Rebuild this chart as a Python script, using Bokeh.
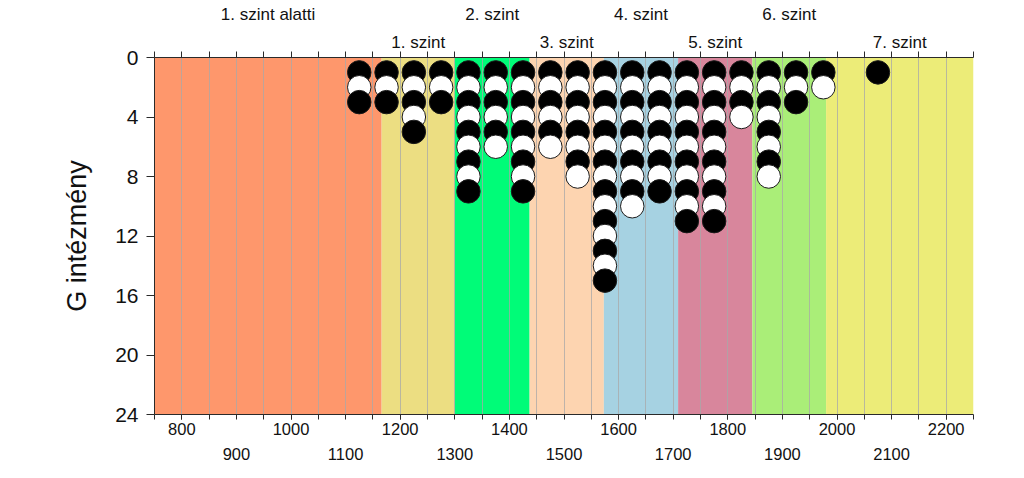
from bokeh.plotting import figure
from bokeh.models import Range1d, FixedTicker, LinearAxis, Grid, ColumnDataSource
from bokeh.embed import file_html
from bokeh.resources import INLINE

# ---- data ----
level_edges = [750, 1166, 1300, 1437, 1573, 1709, 1845, 1980, 2250]
level_names = ["1. szint alatti", "1. szint", "2. szint", "3. szint",
               "4. szint", "5. szint", "6. szint", "7. szint"]
level_colors = ["#FE976C", "#ECDE82", "#00FC78", "#FDD4B0",
                "#A6D2E2", "#D8869C", "#AAEE78", "#ECEC78"]

scores = [1125, 1175, 1225, 1275, 1325, 1375, 1425, 1475, 1525, 1575,
          1625, 1675, 1725, 1775, 1825, 1875, 1925, 1975, 2075]
counts = [3, 3, 5, 3, 9, 6, 9, 6, 8, 15, 10, 9, 11, 11, 4, 8, 3, 2, 1]

x_labels_row1 = [800, 1000, 1200, 1400, 1600, 1800, 2000, 2200]
x_labels_row2 = [900, 1100, 1300, 1500, 1700, 1900, 2100]
x_small_ticks = list(range(750, 2251, 50))
y_ticks = [0, 4, 8, 12, 16, 20, 24]

FONT = "Liberation Sans"
AXIS_COLOR = "#2a2a2a"

# ---- derived point table (one circle per institution) ----
px, py, pc = [], [], []
for s, n in zip(scores, counts):
    for k in range(1, n + 1):
        px.append(s)
        py.append(k)
        pc.append("black" if k % 2 == 1 else "white")
pts = ColumnDataSource(dict(x=px, y=py, c=pc))

bands = ColumnDataSource(dict(
    left=level_edges[:-1], right=level_edges[1:], color=level_colors,
    top=[0] * len(level_colors), bottom=[24] * len(level_colors)))

centers = [(a + b) / 2 for a, b in zip(level_edges[:-1], level_edges[1:])]

p = figure(width=1024, height=478,
           x_range=Range1d(750, 2250), y_range=Range1d(24, 0),
           output_backend="svg", toolbar_location=None,
           x_axis_location=None, y_axis_location=None,
           min_border_left=154, min_border_right=51,
           min_border_top=57, min_border_bottom=64)
p.xgrid.visible = False
p.ygrid.visible = False
p.outline_line_color = None
p.background_fill_color = "white"
p.border_fill_color = "white"

p.quad(left="left", right="right", top="top", bottom="bottom", source=bands,
       fill_color="color", line_color=None, level="image")

grid = Grid(dimension=0, ticker=FixedTicker(ticks=x_small_ticks[1:-1]),
            grid_line_color="#a8a8a8", grid_line_alpha=0.75, grid_line_width=1)
p.add_layout(grid, "center")

p.scatter(x="x", y="y", source=pts, size=23.5, marker="circle",
          fill_color="c", line_color="#1a1a1a", line_width=1)

def style_axis(ax, size):
    ax.axis_line_color = AXIS_COLOR
    ax.major_tick_line_color = AXIS_COLOR
    ax.minor_tick_line_color = AXIS_COLOR
    ax.major_tick_in = 0
    ax.minor_tick_in = 0
    ax.major_label_text_font = FONT
    ax.major_label_text_font_size = size
    ax.major_label_text_color = "#111111"

# left axis
ya = LinearAxis(ticker=FixedTicker(ticks=y_ticks), axis_label="G intézmény")
style_axis(ya, "21px")
ya.major_tick_out = 8
ya.minor_tick_out = 0
ya.major_label_standoff = 8
ya.axis_label_text_font = FONT
ya.axis_label_text_font_size = "27px"
ya.axis_label_text_font_style = "normal"
ya.axis_label_text_color = "#111111"
ya.axis_label_standoff = 20
p.add_layout(ya, "left")

# bottom axes (two label rows)
xb1 = LinearAxis(ticker=FixedTicker(ticks=x_labels_row1, minor_ticks=x_small_ticks))
style_axis(xb1, "16.5px")
xb1.major_tick_out = 5
xb1.minor_tick_out = 5
xb1.major_label_standoff = 3
p.add_layout(xb1, "below")

xb2 = LinearAxis(ticker=FixedTicker(ticks=x_labels_row2))
style_axis(xb2, "16.5px")
xb2.axis_line_color = None
xb2.major_tick_out = 0
xb2.minor_tick_out = 0
xb2.major_label_standoff = 10
p.add_layout(xb2, "below")

# top axes: ticks + level names in two rows
lower_c = centers[1::2]
upper_c = centers[0::2]
xt1 = LinearAxis(ticker=FixedTicker(ticks=lower_c, minor_ticks=x_small_ticks),
                 major_label_overrides={c: n for c, n in zip(lower_c, level_names[1::2])})
style_axis(xt1, "17px")
xt1.major_tick_out = 0
xt1.minor_tick_out = 6
xt1.major_label_standoff = 0
p.add_layout(xt1, "above")

xt2 = LinearAxis(ticker=FixedTicker(ticks=upper_c),
                 major_label_overrides={c: n for c, n in zip(upper_c, level_names[0::2])})
style_axis(xt2, "17px")
xt2.axis_line_color = None
xt2.major_tick_out = 0
xt2.minor_tick_out = 0
xt2.major_label_standoff = 6
p.add_layout(xt2, "above")

open("out.html", "w").write(file_html(p, INLINE))
